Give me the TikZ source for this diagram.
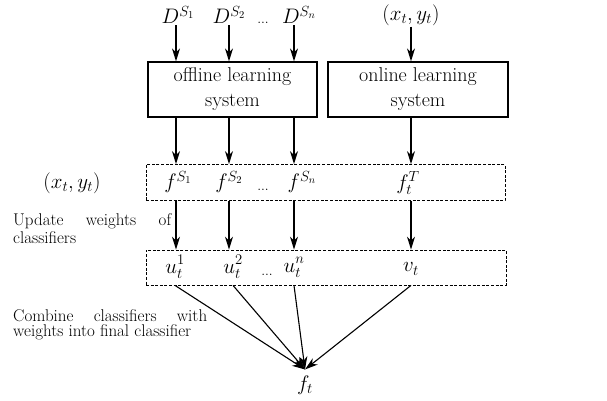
\documentclass[tikz,border=0pt]{standalone}
\usepackage{fix-cm}
\usepackage{amsmath}
\usetikzlibrary{arrows.meta,positioning}

\begin{document}
\begin{tikzpicture}[
  x=1pt, y=-1pt,
  sys/.style={draw, line width=1.3pt, minimum width=169pt, minimum height=55pt,
              align=center, font=\fontsize{20}{25}\selectfont, inner sep=0pt},
  grp/.style={draw, line width=0.8pt, dash pattern=on 3pt off 1.6pt,
              minimum width=359pt, minimum height=36pt, inner sep=0pt},
  sym/.style={font=\fontsize{21}{24}\selectfont, inner sep=1pt},
  dots/.style={font=\fontsize{14}{16}\selectfont, inner sep=0pt},
  note/.style={font=\fontsize{17}{18}\selectfont, align=justify, anchor=north west, inner sep=0pt},
  arr/.style={-{Stealth[length=13pt, width=8pt, inset=4pt]}, line width=1.1pt}
]
\useasboundingbox (0,0) rectangle (607,401);

% inputs
\node[sym] (d1) at (178,15) {$D^{S_1}$};
\node[sym] (d2) at (229,15) {$D^{S_2}$};
\node[dots] (ddots) at (263,23) {...};
\node[sym] (dn) at (299,15) {$D^{S_n}$};
\node[sym] (xy) at (411,15) {$(x_t,y_t)$};

% learning systems
\node[sys] (off) at (232.5,89.5) {offline learning\\system};
\node[sys, minimum width=180pt] (onl) at (418,89.5) {online learning\\system};

% classifiers
\node[grp] (fbox) at (325.5,182.5) {};
\node[sym] (xyl) at (72,183) {$(x_t,y_t)$};
\node[sym] (f1) at (178,182) {$f^{S_1}$};
\node[sym] (f2) at (229,182) {$f^{S_2}$};
\node[dots] (fdots) at (263,190) {...};
\node[sym] (fn) at (302,182) {$f^{S_n}$};
\node[sym] (fT) at (408,183) {$f_t^T$};

% weights
\node[grp, minimum width=360pt, minimum height=35pt] (ubox) at (326,267.5) {};
\node[sym] (u1) at (175,267) {${u\vphantom{f}}_t^1$};
\node[sym] (u2) at (233,267) {${u\vphantom{f}}_t^2$};
\node[dots] (udots) at (267,275) {...};
\node[sym] (un) at (294,267) {${u\vphantom{f}}_t^n$};
\node[sym] (v) at (411,269) {$v_t$};

\node[sym, inner sep=6pt] (ft) at (305,385) {$f_t$};

\node[note, text width=158pt] (upd) at (13,213) {Update weights of\linebreak classifiers};
\node[note, text width=194pt, font=\fontsize{17}{15.5}\selectfont] (comb) at (13,309)
  {Combine classifiers with\linebreak weights into final classifier};

\draw[arr] (d1.south -| 176,0) -- (176,0 |- off.north);
\draw[arr] (d2) -- (d2 |- off.north);
\draw[arr] (dn.south -| 294,0) -- (294,0 |- off.north);
\draw[arr] (xy) -- (xy |- onl.north);

\draw[arr] (176,0 |- off.south) -- (176,0 |- fbox.north);
\draw[arr] (d2 |- off.south) -- (d2 |- fbox.north);
\draw[arr] (294,0 |- off.south) -- (294,0 |- fbox.north);
\draw[arr] (xy |- onl.south) -- (xy |- fbox.north);

\draw[arr] (176,0 |- fbox.south) -- (176,0 |- ubox.north);
\draw[arr] (d2 |- fbox.south) -- (d2 |- ubox.north);
\draw[arr] (294,0 |- fbox.south) -- (294,0 |- ubox.north);
\draw[arr] (xy |- fbox.south) -- (xy |- ubox.north);

\draw[arr] (u1 |- ubox.south) -- (ft.north);
\draw[arr] (u2 |- ubox.south) -- (ft.north);
\draw[arr] (un |- ubox.south) -- (ft.north);
\draw[arr] (v |- ubox.south) -- (ft.north);
\end{tikzpicture}
\end{document}
